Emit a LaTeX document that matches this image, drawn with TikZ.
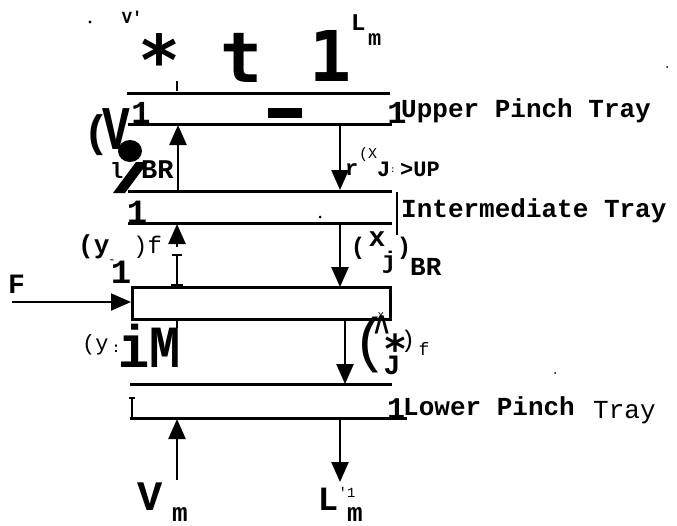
\documentclass[tikz,border=0pt]{standalone}
\usepackage{fontspec}
\usetikzlibrary{arrows.meta}
\newfontfamily\cour{Liberation Mono}
\newfontfamily\dvm{DejaVu Sans Mono}
\newcommand\fsz[1]{\fontsize{#1}{#1}\selectfont}
\begin{document}
\begin{tikzpicture}[x=1pt,y=-1pt,
  lbl/.style={inner sep=0pt,anchor=base},
  lblw/.style={inner sep=0pt,anchor=base west},
  tray/.style={line width=3pt},
  arr/.style={line width=2.5pt,-{Triangle[width=17pt,length=20pt]}},
  speck/.style={fill=black}]
\useasboundingbox (0,0) rectangle (677,525);
% specks
\fill[speck] (90,22) circle (1.6);
\fill[speck] (667,67) circle (1);
\fill[speck] (555,373) circle (1);
\fill[speck] (320,217) circle (1.5);
% top texts
\node[lbl,font=\cour\bfseries\fsz{17}] (vp) at (132,23) {V'};
\node[lbl,font=\dvm\bfseries\fsz{70}] (star) at (160,85) {*};
\node[lbl,font=\dvm\bfseries\fsz{70}] (tt) at (242,82) {t};
\node[lbl,font=\dvm\bfseries\fsz{70}] (one) at (331,81) {1};
\node[lblw,font=\cour\bfseries\fsz{24}] (Lt) at (351,30) {L};
\node[lblw,font=\cour\bfseries\fsz{22}] (Ltm) at (368,45) {m};
\draw[line width=1.5pt] (177,81) -- (177,91);
% upper pinch tray
\draw[tray] (127,93) -- (390,93);
\draw[tray] (128,124) -- (392,124);
\fill (268,108) rectangle (302,118);
\node[lbl,font=\cour\bfseries\fsz{32}] (u1) at (141,123) {1};
\node[lbl,font=\cour\bfseries\fsz{32}] (u2) at (397,123) {1};
\node[lblw,font=\cour\bfseries\fsz{26}] (upt) at (401,117) {Upper Pinch Tray};
\node[lbl,font=\cour\bfseries\fsz{44}] (lp) at (97,146) {(};
\node[lbl,font=\cour\bfseries\fsz{46}] (bigV) at (116,149) {\scalebox{1}[1.35]{V}};
% ink blob (";")
\fill (130,151) ellipse (12pt and 11pt);
\fill (136,162) -- (148,162) -- (125,193) -- (113,193) -- cycle;
\node[lblw,font=\cour\bfseries\fsz{22}] (el) at (110,178) {l};
\node[lblw,font=\cour\bfseries\fsz{27}] (br1) at (141,178) {BR};
% arrows between upper and intermediate
\coordinate (a1s) at (178,191); \coordinate (a1e) at (178,125);
\draw[arr] (a1s) -- (a1e);
\coordinate (a2s) at (340,124); \coordinate (a2e) at (340,190);
\draw[arr] (a2s) -- (a2e);
\node[lblw,font=\cour\bfseries\fsz{22}] (r) at (345,175) {r};
\node[lblw,font=\cour\fsz{15}] (px) at (359,158) {(X};
\node[lblw,font=\cour\bfseries\fsz{22}] (J1) at (377,176) {J};
\node[lblw,font=\cour\fsz{9}] (c1) at (390,172) {:};
\node[lblw,font=\cour\bfseries\fsz{22}] (up) at (400,176) {>UP};
% intermediate tray
\draw[tray] (128,191) -- (392,191);
\draw[tray] (128,223) -- (392,223);
\node[lbl,font=\cour\bfseries\fsz{34}] (i1) at (137,223) {1};
\draw[line width=2.5pt] (397,192) -- (397,235);
\node[lblw,font=\cour\bfseries\fsz{26}] (imt) at (401,217) {Intermediate Tray};
% arrows between intermediate and feed
\coordinate (a3s) at (177,247); \coordinate (a3e) at (177,224);
\draw[arr] (a3s) -- (a3e);
\draw[line width=2pt] (177,255) -- (177,285);
\draw[line width=2pt] (172,255) -- (182,255);
\draw[line width=2pt] (171,285) -- (183,285);
\node[lblw,font=\cour\bfseries\fsz{26}] (y1) at (78,253) {(y};
\node[lbl,font=\cour\fsz{12}] (dash1) at (112,263) {-};
\node[lbl,font=\cour\bfseries\fsz{34}] (m1) at (121,283) {1};
\node[lblw,font=\cour\fsz{24}] (pf) at (133,253) {)f};
\coordinate (a4s) at (340,224); \coordinate (a4e) at (340,287);
\draw[arr] (a4s) -- (a4e);
\node[lbl,font=\cour\bfseries\fsz{24}] (p2) at (358,254) {(};
\node[lbl,font=\cour\bfseries\fsz{28}] (x2) at (377,246) {x};
\node[lbl,font=\cour\bfseries\fsz{24}] (j2) at (389,268) {j};
\node[lbl,font=\cour\bfseries\fsz{24}] (p3) at (404,254) {)};
\node[lblw,font=\cour\bfseries\fsz{26}] (br2) at (410,275) {BR};
% feed tray
\draw[line width=3pt] (132,287) rectangle (390,319);
\coordinate (fs) at (12,302); \coordinate (fe) at (131,302);
\draw[arr,line width=2pt] (fs) -- (fe);
\node[lblw,font=\cour\bfseries\fsz{28}] (F) at (8,293) {F};
\draw[line width=2.5pt] (177,319) -- (177,328);
\node[lblw,font=\cour\fsz{22}] (y2) at (82,350) {(y};
\node[lbl,font=\cour\bfseries\fsz{14}] (c2) at (116,352) {:};
\node[lblw,font=\cour\bfseries\fsz{52}] (iM) at (118,367) {\scalebox{1}[1.15]{iM}};
\coordinate (a5s) at (345,320); \coordinate (a5e) at (345,384);
\draw[arr] (a5s) -- (a5e);
\node[lbl,font=\cour\fsz{60}] (p4) at (370,360) {(};
\node[lbl,font=\cour\fsz{11}] (xs) at (381,318) {x};
\node[lbl,font=\cour\bfseries\fsz{26}] (car) at (382,344) {\scalebox{1}[1.6]{\textasciicircum}};
\node[lbl,font=\dvm\bfseries\fsz{40}] (st) at (396,363) {*};
\node[lbl,font=\cour\fsz{24}] (p5) at (408,347) {)};
\node[lbl,font=\cour\bfseries\fsz{28}] (J2) at (392,374) {J};
\node[lbl,font=\cour\fsz{18}] (f2) at (424,355) {f};
% lower pinch tray
\draw[tray] (130,384) -- (392,384);
\draw[tray] (130,418) -- (407,418);
\draw[line width=2pt] (132,398) -- (132,418);
\draw[line width=2pt] (129,398) -- (135,398);
\node[lbl,font=\cour\bfseries\fsz{30}] (l1) at (396,418) {1};
\node[lblw,font=\cour\bfseries\fsz{26}] (lpt) at (403,415) {Lower Pinch};
\node[lblw,font=\cour\fsz{26}] (tray3) at (593,418) {Tray};
\coordinate (a6s) at (177,480); \coordinate (a6e) at (177,419);
\draw[arr] (a6s) -- (a6e);
\coordinate (a7s) at (340,419); \coordinate (a7e) at (340,482);
\draw[arr] (a7s) -- (a7e);
\node[lbl,font=\cour\bfseries\fsz{42}] (Vm) at (150,510) {V};
\node[lbl,font=\cour\bfseries\fsz{26}] (Vmm) at (180,521) {m};
\node[lbl,font=\cour\bfseries\fsz{34}] (Lb) at (328,510) {L};
\node[lbl,font=\cour\fsz{14}] (Lq) at (347,497) {'1};
\node[lbl,font=\cour\bfseries\fsz{26}] (Lbm) at (355,521) {m};
\end{tikzpicture}
\end{document}
